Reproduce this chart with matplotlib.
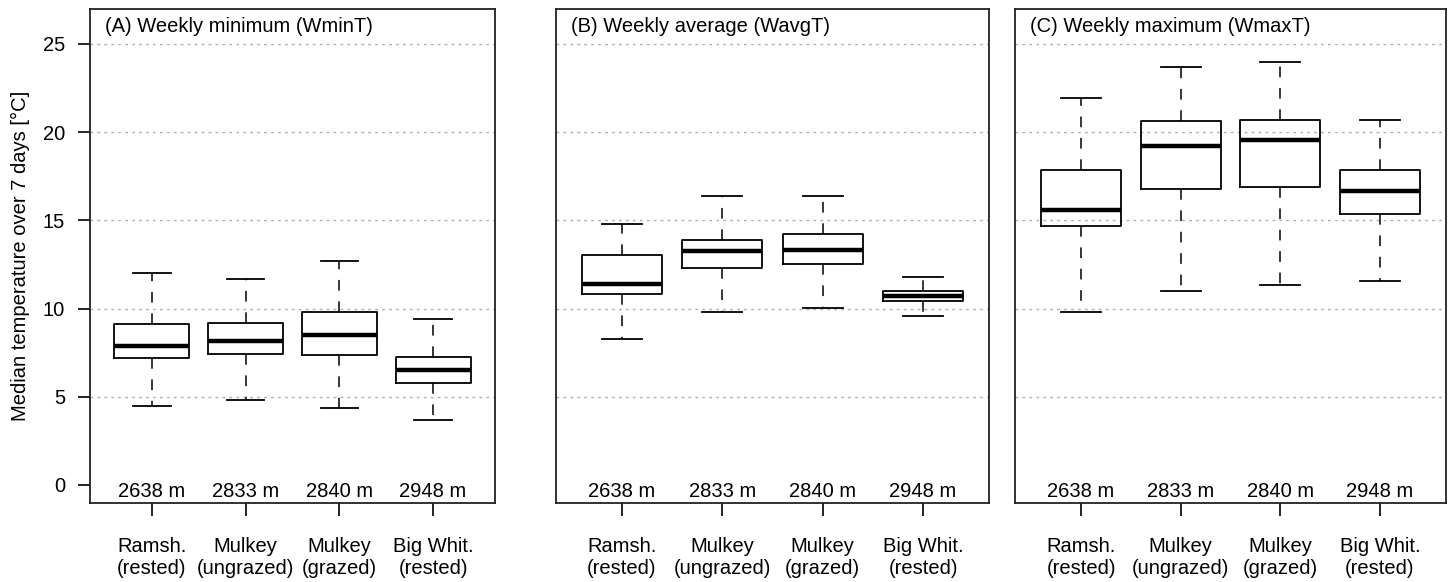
import numpy as np
import matplotlib.pyplot as plt

plt.rcParams['font.family'] = ['Liberation Sans', 'DejaVu Sans']

sites = ["Ramsh.\n(rested)", "Mulkey\n(ungrazed)", "Mulkey\n(grazed)", "Big Whit.\n(rested)"]
altitudes = ["2638 m", "2833 m", "2840 m", "2948 m"]
titles = ["(A) Weekly minimum (WminT)", "(B) Weekly average (WavgT)", "(C) Weekly maximum (WmaxT)"]

# box statistics per panel: lower whisker, q1, median, q3, upper whisker
wmin_lo = [4.48, 4.84, 4.35, 3.70]
wmin_q1 = [7.22, 7.43, 7.39, 5.80]
wmin_med = [7.88, 8.18, 8.49, 6.52]
wmin_q3 = [9.15, 9.17, 9.79, 7.24]
wmin_hi = [12.02, 11.70, 12.68, 9.41]

wavg_lo = [8.27, 9.81, 10.04, 9.58]
wavg_q1 = [10.82, 12.28, 12.53, 10.44]
wavg_med = [11.39, 13.25, 13.31, 10.72]
wavg_q3 = [13.06, 13.90, 14.22, 10.97]
wavg_hi = [14.81, 16.37, 16.37, 11.81]

wmax_lo = [9.83, 10.99, 11.33, 11.58]
wmax_q1 = [14.66, 16.75, 16.90, 15.36]
wmax_med = [15.59, 19.24, 19.54, 16.65]
wmax_q3 = [17.87, 20.65, 20.70, 17.87]
wmax_hi = [21.96, 23.69, 23.99, 20.70]

panels = [
    (wmin_lo, wmin_q1, wmin_med, wmin_q3, wmin_hi),
    (wavg_lo, wavg_q1, wavg_med, wavg_q3, wavg_hi),
    (wmax_lo, wmax_q1, wmax_med, wmax_q3, wmax_hi),
]

fig = plt.figure(figsize=(14.51, 5.82), dpi=100)
W, H = 1451, 582
lefts = [90, 555.7, 1015.3]
rights = [495, 989.3, 1445.7]
top, bottom = 9, 503.3

fs = 14.5
for i in range(3):
    ax = fig.add_axes([lefts[i] / W, 1 - bottom / H, (rights[i] - lefts[i]) / W, (bottom - top) / H])
    lo, q1, med, q3, hi = panels[i]
    stats = []
    for j in range(4):
        stats.append(dict(whislo=lo[j], q1=q1[j], med=med[j], q3=q3[j], whishi=hi[j], fliers=[]))
    for g in [5, 10, 15, 20, 25]:
        ax.axhline(g, color="#b0b0b0", lw=1, linestyle=(0, (2, 3)), zorder=0)
    ax.bxp(stats, positions=[1, 2, 3, 4], widths=0.8, capwidths=0.4, showfliers=False,
           boxprops=dict(color="black", lw=1.3),
           medianprops=dict(color="black", lw=3.2, solid_capstyle="butt"),
           whiskerprops=dict(color="black", lw=1.1, linestyle=(0, (7, 7))),
           capprops=dict(color="black", lw=1.3))
    ax.set_xlim(0.34, 4.66)
    ax.set_ylim(-1.04, 26.98)
    for s in ax.spines.values():
        s.set_linewidth(1.3)
        s.set_color("#222222")
    ax.set_xticks([1, 2, 3, 4])
    ax.set_xticklabels(sites, fontsize=fs, linespacing=1.2)
    ax.tick_params(axis="x", length=9, width=1.2, pad=15)
    for j in range(4):
        ax.text(j + 1, -0.38, altitudes[j], ha="center", va="center", fontsize=fs)
    ax.annotate(titles[i], xy=(0, 1), xycoords="axes fraction", xytext=(15, -17),
                textcoords="offset pixels", ha="left", va="center", fontsize=fs)
    if i == 0:
        ax.set_yticks([0, 5, 10, 15, 20, 25])
        ax.tick_params(axis="y", length=9, width=1.2, labelsize=fs, pad=9)
        ax.set_ylabel("Median temperature over 7 days [°C]", fontsize=fs, labelpad=9)
    else:
        ax.set_yticks([])

fig.savefig("out.png", dpi=100)
